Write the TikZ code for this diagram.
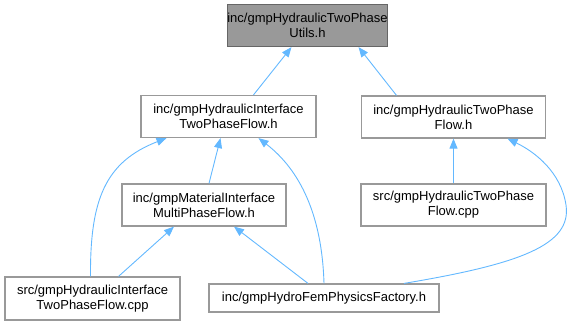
\documentclass[tikz,border=0pt]{standalone}
\usepackage{fontspec}
\setmainfont{Liberation Sans}
\usetikzlibrary{arrows.meta}
\definecolor{edgeblue}{HTML}{63B8FF}
\definecolor{boxgray}{HTML}{999999}
\definecolor{topgray}{HTML}{666666}
\tikzset{
  filebox/.style={draw=boxgray, fill=white, line width=1.2pt, rectangle, inner sep=0pt, align=center, minimum height=42pt, font=\fontsize{13}{15}\selectfont},
  rootbox/.style={filebox, draw=topgray, fill=boxgray},
  incl/.style={draw=edgeblue, line width=0.9pt, -{Triangle[length=10pt, width=8pt]}},
}
\begin{document}
\begin{tikzpicture}[x=1pt, y=-1pt]
        \useasboundingbox (0,0) rectangle (571,325);
        % 各ファイルの枠
        \node[rootbox, minimum width=141pt] (Utils) at (307.5,25.5) {inc/gmpHydraulicTwoPhase\\Utils.h};
        \node[filebox, minimum width=175pt] (IfaceH) at (228.5,116.5) {inc/gmpHydraulicInterface\\TwoPhaseFlow.h};
        \node[filebox, minimum width=184pt] (TwoPhaseH) at (453.5,117) {inc/gmpHydraulicTwoPhase\\Flow.h};
        \node[filebox, minimum width=164pt] (MatIfaceH) at (204,205) {inc/gmpMaterialInterface\\MultiPhaseFlow.h};
        \node[filebox, minimum width=185pt] (TwoPhaseCpp) at (453.5,205) {src/gmpHydraulicTwoPhase\\Flow.cpp};
        \node[filebox, minimum width=175pt, minimum height=43pt] (IfaceCpp) at (92.5,298.5) {src/gmpHydraulicInterface\\TwoPhaseFlow.cpp};
        \node[filebox, minimum width=230pt, minimum height=28pt] (Factory) at (324,298) {inc/gmpHydroFemPhysicsFactory.h};
        % 矢印で接続
        \draw[incl] ([xshift=25pt]IfaceH.north) -- ([xshift=-16pt]Utils.south);
        \draw[incl] ([xshift=-57pt]TwoPhaseH.north) -- ([xshift=51pt]Utils.south);
        \draw[incl] ([xshift=5pt]MatIfaceH.north) -- ([xshift=-8pt]IfaceH.south);
        \draw[incl] ([xshift=-2pt]IfaceCpp.north) .. controls (90,200) and (105,162) .. ([xshift=-62pt]IfaceH.south);
        \draw[incl] (Factory.north) .. controls (322,215) and (300,170) .. ([xshift=30pt]IfaceH.south);
        \draw[incl] ([xshift=26pt]IfaceCpp.north) -- ([xshift=-30pt]MatIfaceH.south);
        \draw[incl] ([xshift=-16pt]Factory.north) -- ([xshift=30pt]MatIfaceH.south);
        \draw[incl] (TwoPhaseCpp.north) -- (TwoPhaseH.south);
        \draw[incl] ([xshift=80pt]Factory.north) .. controls (520,264) and (572,245) .. (566,205)
            .. controls (561,172) and (535,152) .. ([xshift=54pt]TwoPhaseH.south);
\end{tikzpicture}
\end{document}
